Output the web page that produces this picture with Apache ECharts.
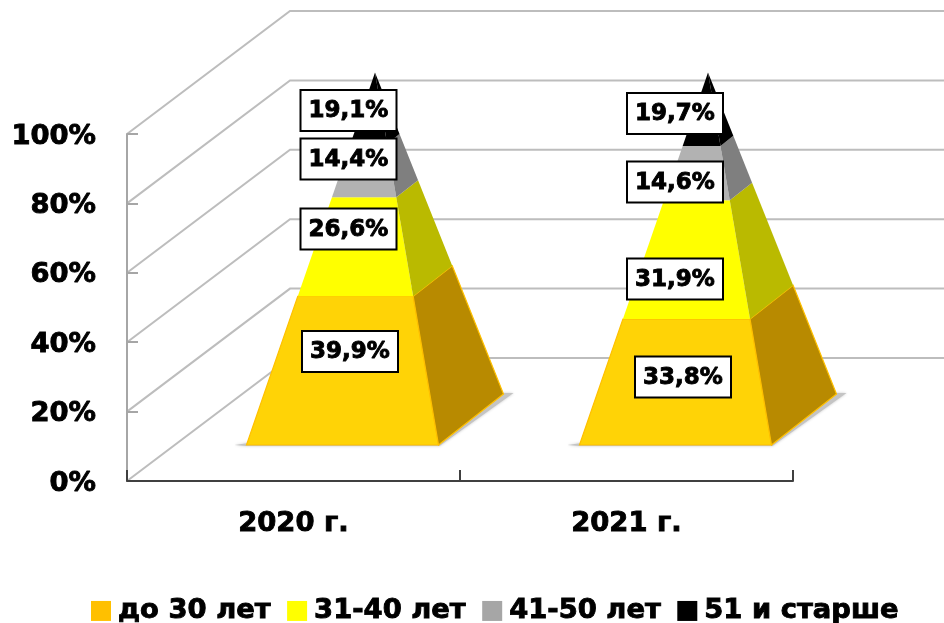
<!DOCTYPE html>
<html>
<head>
<meta charset="utf-8">
<style>html,body{margin:0;padding:0;background:#fff}#c{width:944px;height:623px}</style>
<script src="https://cdn.jsdelivr.net/npm/echarts@6/dist/echarts.min.js"></script>
</head>
<body>
<div id="c"></div>
<script>
const categories = ['2020 г.', '2021 г.'];
const yTicks = [0, 20, 40, 60, 80, 100];
const groupNames = ['до 30 лет', '31-40 лет', '41-50 лет', '51 и старше'];
const under30 = [39.9, 33.8];
const from31to40 = [26.6, 31.9];
const from41to50 = [14.4, 14.6];
const over50 = [19.1, 19.7];
const groupValues = [under30, from31to40, from41to50, over50];

// layout and style, kept apart from the data
const FONT = '"DejaVu Sans", sans-serif';
const legendColors = ['#FFC000', '#FFFF00', '#A6A6A6', '#000000'];
const frontColors = ['#FFD306', '#FFFF00', '#B2B2B2', '#000000'];
const sideColors = ['#B88A00', '#BABA00', '#7F7F7F', '#000000'];
const edgeColors = ['#FFC000', null, null, null];
const WALL_DX = 163, WALL_DY = -123;
const HALF_W = 96, HALF_DX = 32.5, HALF_DY = -25.5;
const BOX_W = 96, BOX_H = 41;
const HEAVY = { textBorderColor: '#000', textBorderWidth: 0.9 };
// label box centre relative to the category's foot on the axis: [group][category]
const labelOffsets = [
  [[56.5, -129.5], [56.5, -104]],
  [[55, -252], [48.5, -202]],
  [[55, -322], [48.5, -299]],
  [[55, -370.5], [48.5, -367.5]]
];

function pyramidCentre(api, cat, v) {
  const p = api.coord([cat, v]);
  return [p[0] + WALL_DX / 2, p[1] + WALL_DY / 2];
}
function section(api, cat, v) {
  const c = pyramidCentre(api, cat, v);
  const k = 1 - Math.min(v, 100) / 100;
  return {
    fl: [c[0] - (HALF_W + HALF_DX) * k, c[1] - HALF_DY * k],
    fr: [c[0] + (HALF_W - HALF_DX) * k, c[1] - HALF_DY * k],
    br: [c[0] + (HALF_W + HALF_DX) * k, c[1] + HALF_DY * k]
  };
}
function segmentItem(group) {
  return function (params, api) {
    const cat = api.value(0), start = api.value(1), end = api.value(2);
    const a = section(api, cat, start), b = section(api, cat, end);
    const edge = edgeColors[group];
    const lw = edge ? 1.2 : 0;
    return {
      type: 'group',
      children: [
        { type: 'polygon', shape: { points: [a.fl, a.fr, b.fr, b.fl] },
          style: { fill: frontColors[group], stroke: edge || frontColors[group], lineWidth: lw } },
        { type: 'polygon', shape: { points: [a.fr, a.br, b.br, b.fr] },
          style: { fill: sideColors[group], stroke: edge || sideColors[group], lineWidth: lw } }
      ]
    };
  };
}
function shadowItem(params, api) {
  const s = section(api, api.value(0), 0);
  return {
    type: 'polygon',
    shape: { points: [
      [s.fl[0] - 12, s.fl[1]], [s.fl[0] + 10, s.fl[1] - 3],
      [s.br[0] - 6, s.br[1] - 1], [s.br[0] + 10, s.br[1] - 1],
      [s.fr[0] + 1, s.fr[1] + 1], [s.fl[0], s.fl[1] + 1]
    ] },
    style: { fill: '#c4c4c4', shadowBlur: 3, shadowColor: '#c8c8c8' }
  };
}
function wallItem(params, api) {
  const p = api.coord([0, api.value(0)]);
  const x0 = api.coord([0, 0])[0] - api.size([1, 0])[0] / 2;
  return {
    type: 'polyline',
    shape: { points: [[x0, p[1]], [x0 + WALL_DX, p[1] + WALL_DY], [api.getWidth(), p[1] + WALL_DY]] },
    style: { fill: 'none', stroke: '#BDBDBD', lineWidth: 2 }
  };
}
function labelItem(params, api) {
  const cat = api.value(0), group = api.value(1), val = api.value(2);
  const foot = api.coord([cat, 0]);
  const off = labelOffsets[group][cat];
  const cx = foot[0] + off[0], cy = foot[1] + off[1];
  return {
    type: 'group',
    children: [
      { type: 'rect', shape: { x: cx - BOX_W / 2, y: cy - BOX_H / 2, width: BOX_W, height: BOX_H },
        style: { fill: '#fff', stroke: '#000', lineWidth: 2 } },
      { type: 'text', x: cx, y: cy + 1,
        style: { text: val.toFixed(1).replace('.', ',') + '%', fill: '#000', stroke: '#000', lineWidth: 0.9,
                 align: 'center', verticalAlign: 'middle', font: 'bold 23px ' + FONT } }
    ]
  };
}

const series = [
  { name: 'wall', type: 'custom', z: 1, silent: true, renderItem: wallItem,
    data: yTicks.map(v => [v]), encode: { y: 0 } },
  { name: 'shadow', type: 'custom', z: 2, silent: true, renderItem: shadowItem,
    data: categories.map((c, i) => [i, 0]), encode: { x: 0, y: 1 } }
];
groupNames.forEach((name, g) => {
  const data = categories.map((c, i) => {
    let start = 0;
    for (let k = 0; k < g; k++) start += groupValues[k][i];
    return [i, start, start + groupValues[g][i]];
  });
  series.push({ name, type: 'custom', z: 3 + g, renderItem: segmentItem(g), data,
    itemStyle: { color: legendColors[g] }, encode: { x: 0, y: 2 } });
});
const labelData = [];
groupNames.forEach((name, g) => categories.forEach((c, i) => labelData.push([i, g, groupValues[g][i]])));
series.push({ name: 'labels', type: 'custom', z: 10, silent: true, renderItem: labelItem,
  data: labelData, encode: { x: 0 } });

const chart = echarts.init(document.getElementById('c'), null, { renderer: 'canvas' });
chart.setOption({
  animation: false,
  backgroundColor: '#fff',
  grid: { left: 127, right: 151, top: 134, bottom: 142 },
  legend: {
    data: groupNames, left: 91, top: 597, itemWidth: 20, itemHeight: 20, itemGap: 16,
    icon: 'rect', selectedMode: false, padding: 0,
    textStyle: Object.assign({ fontFamily: FONT, fontWeight: 'bold', fontSize: 27.4, color: '#000', padding: [0, 0, 0, 2] }, HEAVY)
  },
  xAxis: {
    type: 'category', data: categories, boundaryGap: true, z: 5,
    axisLine: { lineStyle: { color: '#404040', width: 2 } },
    axisTick: { show: true, alignWithLabel: false, inside: true, length: 11, lineStyle: { color: '#404040', width: 2 } },
    axisLabel: Object.assign({ fontFamily: FONT, fontWeight: 'bold', fontSize: 27.4, color: '#000', margin: 29 }, HEAVY),
    splitLine: { show: false }
  },
  yAxis: {
    type: 'value', min: 0, max: 100, interval: 20, z: 3,
    axisLine: { show: true, lineStyle: { color: '#A6A6A6', width: 2 } },
    axisTick: { show: true, inside: true, length: 11, lineStyle: { color: '#A6A6A6', width: 2 } },
    axisLabel: Object.assign({ fontFamily: FONT, fontWeight: 'bold', fontSize: 27.4, color: '#000', margin: 31, verticalAlign: 'top', lineHeight: 5, formatter: '{value}%' }, HEAVY),
    splitLine: { show: false }
  },
  series
});
</script>
</body>
</html>
